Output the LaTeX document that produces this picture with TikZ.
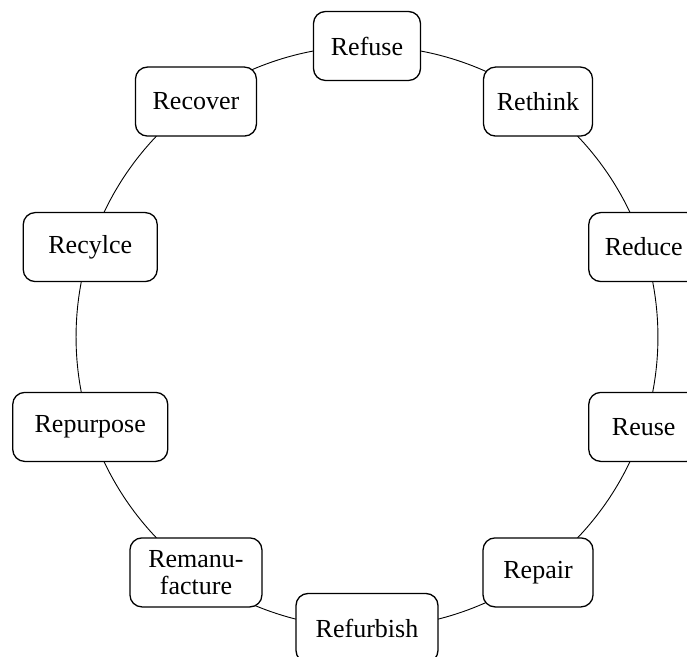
\documentclass[tikz,border=0pt]{standalone}
\usepackage{fontspec}
\setmainfont{Liberation Serif}
\usetikzlibrary{backgrounds}

\tikzset{
  rbox/.style={draw, line width=0.65pt, rounded corners=6pt, fill=white,
    minimum height=34.5pt, inner xsep=4pt, align=center,
    font=\fontsize{13}{13.5}\selectfont},
  ring/.style={line width=0.45pt, bend left=18, looseness=0.873}
}

\begin{document}
\begin{tikzpicture}
\useasboundingbox (-183.5pt,-160pt) rectangle (160pt,168.5pt);
\clip (-183.5pt,-160pt) rectangle (160pt,168.5pt);
\def\rad{145.5pt}

\node[rbox, minimum width=53.5pt] (refuse) at (90:\rad) {Refuse};
\node[rbox, minimum width=54.5pt] (rethink) at (54:\rad) {Rethink};
\node[rbox, minimum width=55pt] (reduce) at (18:\rad) {Reduce};
\node[rbox, minimum width=55pt] (reuse) at (-18:\rad) {Reuse};
\node[rbox, minimum width=55pt] (repair) at (-54:\rad) {Repair};
\node[rbox, minimum width=71pt] (refurbish) at (-90:\rad) {Refurbish};
\node[rbox, minimum width=66pt] (reman) at (-126:\rad) {Remanu-\\facture};
\node[rbox, minimum width=77.5pt] (repurpose) at (-162:\rad) {Repurpose};
\node[rbox, minimum width=67pt] (recycle) at (162:\rad) {Recylce};
\node[rbox, minimum width=60.5pt] (recover) at (126:\rad) {Recover};

\begin{scope}[on background layer]
\draw[ring] (refuse.center) to (rethink.center);
\draw[ring] (rethink.center) to (reduce.center);
\draw[ring] (reduce.center) to (reuse.center);
\draw[ring] (reuse.center) to (repair.center);
\draw[ring] (repair.center) to (refurbish.center);
\draw[ring] (refurbish.center) to (reman.center);
\draw[ring] (reman.center) to (repurpose.center);
\draw[ring] (repurpose.center) to (recycle.center);
\draw[ring] (recycle.center) to (recover.center);
\draw[ring] (recover.center) to (refuse.center);
\end{scope}
\end{tikzpicture}
\end{document}
